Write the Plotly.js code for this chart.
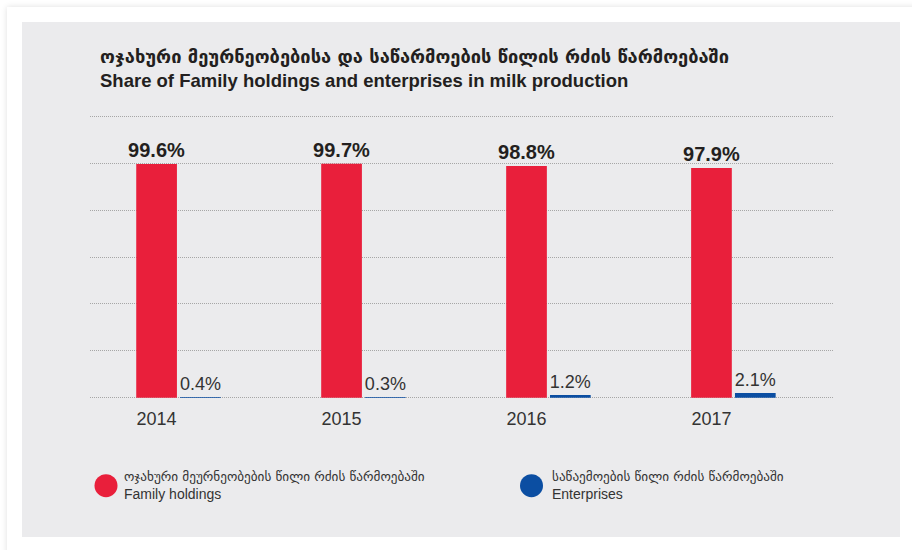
<!DOCTYPE html>
<html>
<head>
<meta charset="utf-8">
<script src="https://cdn.plot.ly/plotly-3.0.1.min.js"></script>
<style>
  html, body { margin:0; padding:0; width:912px; height:550px; overflow:hidden; background:#ffffff; }
  #card { position:absolute; left:7px; top:7px; width:920px; height:560px; background:#ffffff; box-shadow:0 0 6px rgba(0,0,0,0.13); }
  #chart { position:absolute; left:22px; top:22px; width:878px; height:515px; }
</style>
</head>
<body>
<div id="card"></div>
<div id="chart"></div>
<script>
// ---- data ----
const years = ['2014', '2015', '2016', '2017'];
const familyShare = [99.6, 99.7, 98.8, 97.9];
const enterpriseShare = [0.4, 0.3, 1.2, 2.1];
const titleKa = 'ოჯახური მეურნეობებისა და საწარმოების წილის რძის წარმოებაში';
const titleEn = 'Share of Family holdings and enterprises in milk production';
const familyLabelKa = 'ოჯახური მეურნეობების წილი რძის წარმოებაში';
const familyLabelEn = 'Family holdings';
const enterpriseLabelKa = 'საწაემოების წილი რძის წარმოებაში';
const enterpriseLabelEn = 'Enterprises';

const RED = '#e91f3b';
const BLUE = '#0b4ea2';
const TXT = '#231f20';
const BG = '#ebebed';
const FONT = 'Liberation Sans, Arial, DejaVu Sans, sans-serif';

const fmt = v => v.toFixed(1) + '%';

const traces = [
  {
    type: 'bar', x: years, y: familyShare, name: familyLabelEn,
    marker: { color: RED }, width: 0.22, offset: -0.11,
    text: familyShare.map(fmt), textposition: 'outside', constraintext: 'none',
    textfont: { family: FONT, size: 20, color: TXT, weight: 'bold' },
    cliponaxis: false, hoverinfo: 'none'
  },
  {
    type: 'bar', x: years, y: enterpriseShare, name: enterpriseLabelEn,
    marker: { color: BLUE }, width: 0.22, offset: 0.127,
    text: enterpriseShare.map(fmt), textposition: 'outside', constraintext: 'none',
    textfont: { family: FONT, size: 18, color: '#333333' },
    cliponaxis: false, hoverinfo: 'none'
  }
];

const W = 878, H = 515, L = 68, R = 67, T = 92.8, B = 137.8;
const pw = W - L - R, ph = H - T - B;
const px = x => (x - 22 - L) / pw;           // page x -> paper x
const py = y => (H - B - (y - 22)) / ph;     // page y -> paper y

const layout = {
  width: W, height: H,
  margin: { l: L, r: R, t: T, b: B, pad: 0 },
  paper_bgcolor: BG, plot_bgcolor: BG,
  font: { family: FONT, color: TXT },
  barmode: 'overlay',
  showlegend: false,
  xaxis: {
    type: 'category', range: [-0.36, 3.657],
    showgrid: false, zeroline: false, showline: false,
    ticks: 'outside', ticklen: 3, tickcolor: 'rgba(0,0,0,0)',
    tickfont: { family: FONT, size: 18, color: '#333333' }
  },
  yaxis: {
    range: [-0.5, 120.5], tickvals: [0, 20, 40, 60, 80, 100, 120], showticklabels: false,
    showgrid: true, gridcolor: '#a6a6a6', gridwidth: 1, griddash: '1px,1px',
    zeroline: false, showline: false, ticks: ''
  },
  annotations: [
    { xref:'paper', yref:'paper', x: px(98), y: py(56), xanchor:'left', yanchor:'middle', showarrow:false,
      text: titleKa, font: { family: 'DejaVu Sans, sans-serif', size: 18.3, color: TXT, weight: 'bold' } },
    { xref:'paper', yref:'paper', x: px(98), y: py(80), xanchor:'left', yanchor:'middle', showarrow:false,
      text: titleEn, font: { family: FONT, size: 18.5, color: TXT, weight: 'bold' } },
    { xref:'paper', yref:'paper', x: px(122), y: py(477), xanchor:'left', yanchor:'middle', showarrow:false,
      text: familyLabelKa, font: { family: 'DejaVu Sans, sans-serif', size: 13.2, color: '#333333' } },
    { xref:'paper', yref:'paper', x: px(122), y: py(494), xanchor:'left', yanchor:'middle', showarrow:false,
      text: familyLabelEn, font: { family: FONT, size: 14, color: '#333333' } },
    { xref:'paper', yref:'paper', x: px(550), y: py(477), xanchor:'left', yanchor:'middle', showarrow:false,
      text: enterpriseLabelKa, font: { family: 'DejaVu Sans, sans-serif', size: 13.2, color: '#333333' } },
    { xref:'paper', yref:'paper', x: px(550), y: py(494), xanchor:'left', yanchor:'middle', showarrow:false,
      text: enterpriseLabelEn, font: { family: FONT, size: 14, color: '#333333' } }
  ],
  shapes: [
    { type:'circle', xref:'paper', yref:'paper', xsizemode:'pixel', ysizemode:'pixel',
      xanchor: px(106), yanchor: py(486), x0:-11.5, x1:11.5, y0:-11.5, y1:11.5,
      fillcolor: RED, line: { width: 0 } },
    { type:'circle', xref:'paper', yref:'paper', xsizemode:'pixel', ysizemode:'pixel',
      xanchor: px(531.5), yanchor: py(486), x0:-11.5, x1:11.5, y0:-11.5, y1:11.5,
      fillcolor: BLUE, line: { width: 0 } }
  ]
};

Plotly.newPlot('chart', traces, layout, { displayModeBar: false, staticPlot: true });
</script>
</body>
</html>
